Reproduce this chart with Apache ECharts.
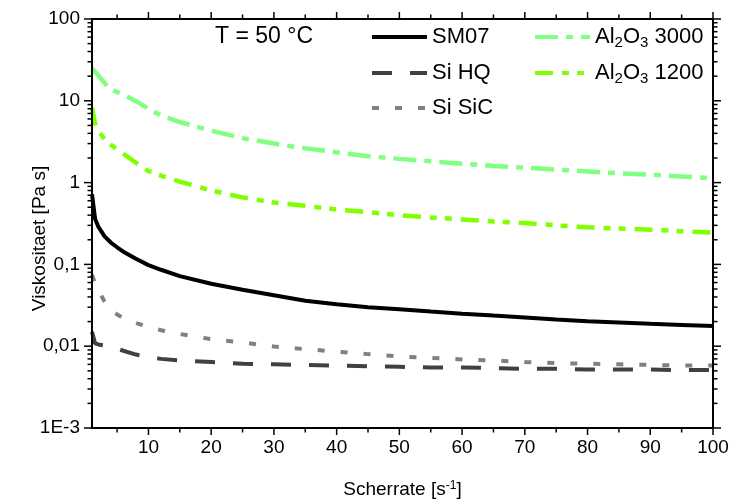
<!DOCTYPE html>
<html>
<head>
<meta charset="utf-8">
<script src="https://cdn.jsdelivr.net/npm/echarts@6/dist/echarts.min.js"></script>
<style>html,body{margin:0;padding:0;background:#fff;}#c{width:738px;height:504px;background:#fff;}</style>
</head>
<body>
<div id="c"></div>
<script>
// ---- data ----
const shearRate = [1, 1.5, 2, 3, 4, 5, 6, 8, 10, 12, 15, 20, 25, 30, 35, 40, 45, 50, 55, 60, 65, 70, 75, 80, 85, 90, 95, 100];
const sm07    = [0.72, 0.36, 0.29, 0.22, 0.185, 0.162, 0.143, 0.117, 0.098, 0.086, 0.072, 0.058, 0.049, 0.042, 0.036, 0.0325, 0.030, 0.0283, 0.0265, 0.025, 0.0237, 0.0225, 0.0212, 0.0202, 0.0195, 0.0188, 0.0182, 0.0176];
const siHQ    = [0.015, 0.0108, 0.0105, 0.0102, 0.0098, 0.0093, 0.0088, 0.0079, 0.0074, 0.0070, 0.0067, 0.0064, 0.0061, 0.0060, 0.0059, 0.0058, 0.0057, 0.0056, 0.0055, 0.0055, 0.0054, 0.0053, 0.0053, 0.0052, 0.0052, 0.0052, 0.0051, 0.0051];
const siSiC   = [0.075, 0.058, 0.049, 0.035, 0.0275, 0.0245, 0.022, 0.0192, 0.0172, 0.0157, 0.0141, 0.0122, 0.0111, 0.0099, 0.0092, 0.0086, 0.0080, 0.0075, 0.0072, 0.0069, 0.0067, 0.0064, 0.0062, 0.0061, 0.0060, 0.0059, 0.0058, 0.0058];
const al3000  = [25, 22.5, 20.5, 16.5, 13.8, 12.8, 11.9, 9.9, 8.0, 6.6, 5.5, 4.3, 3.5, 3.0, 2.62, 2.35, 2.1, 1.95, 1.82, 1.7, 1.6, 1.52, 1.44, 1.37, 1.30, 1.25, 1.19, 1.13];
const al1200  = [8.2, 5.2, 4.3, 3.4, 2.9, 2.55, 2.25, 1.75, 1.38, 1.22, 1.03, 0.8, 0.66, 0.57, 0.52, 0.47, 0.435, 0.40, 0.375, 0.355, 0.335, 0.32, 0.30, 0.284, 0.275, 0.265, 0.255, 0.245];
const seriesNames = ['SM07', 'Si HQ', 'Si SiC', 'Al2O3 3000', 'Al2O3 1200'];
const xMajorTicks = [10, 20, 30, 40, 50, 60, 70, 80, 90, 100];
const xMinorTicks = [5, 15, 25, 35, 45, 55, 65, 75, 85, 95];
const yMajorTicks = [0.001, 0.01, 0.1, 1, 10, 100];
const yTickLabels = ['1E-3', '0,01', '0,1', '1', '10', '100'];
const yMinorTicks = [];
[0.001, 0.01, 0.1, 1, 10].forEach(d => { for (let k = 2; k <= 9; k++) yMinorTicks.push(+(d * k).toPrecision(3)); });
const annotation = 'T = 50 °C';

// ---- chart ----
const FONT = '"Liberation Sans", Arial, sans-serif';
const chart = echarts.init(document.getElementById('c'), null, {renderer: 'canvas'});
const pair = ys => shearRate.map((x, i) => [x, ys[i]]);

const xAxis = {
  type: 'value', min: 1, max: 100, position: 'bottom',
  splitLine: {show: false},
  axisLine: {show: false, onZero: false},
  axisTick: {show: false},
  axisLabel: {show: true, customValues: xMajorTicks, margin: 10, color: '#000', fontSize: 19, fontFamily: FONT},
  name: 'Scherrate [s{sup|-1}]', nameLocation: 'middle', nameGap: 52, nameMoveOverlap: false,
  nameTextStyle: {fontSize: 19, fontFamily: FONT, color: '#000', rich: {sup: {fontSize: 12, fontFamily: FONT, color: '#000', verticalAlign: 'top', lineHeight: 12}}}
};
const yAxis = {
  type: 'log', logBase: 10, min: 0.001, max: 100, position: 'left',
  splitLine: {show: false},
  axisLine: {show: false, onZero: false},
  axisTick: {show: false},
  axisLabel: {
    show: true, customValues: yMajorTicks, margin: 12, color: '#000', fontSize: 19, fontFamily: FONT,
    formatter: v => { const e = Math.round(Math.log10(v)); return yTickLabels[yMajorTicks.findIndex(t => Math.round(Math.log10(t)) === e)]; }
  },
  name: 'Viskositaet [Pa s]', nameLocation: 'middle', nameGap: 43, nameRotate: 90, nameMoveOverlap: false,
  nameTextStyle: {fontSize: 19, fontFamily: FONT, color: '#000', padding: [0, 30, 0, 0]}
};

const styles = {
  'SM07':       {color: '#000000', width: 4,   type: 'solid'},
  'Si HQ':      {color: '#404040', width: 4,   type: [20, 18]},
  'Si SiC':     {color: '#808080', width: 4,   type: [7, 16]},
  'Al2O3 3000': {color: '#80FF80', width: 4.5, type: [23, 8, 7, 8]},
  'Al2O3 1200': {color: '#80FF00', width: 4.5, type: [18, 9, 7, 8, 7, 9]}
};
const values = {'SM07': sm07, 'Si HQ': siHQ, 'Si SiC': siSiC, 'Al2O3 3000': al3000, 'Al2O3 1200': al1200};

const lineSeries = seriesNames.map(n => ({
  name: n, type: 'line', xAxisIndex: 0, yAxisIndex: 0,
  data: pair(values[n]), showSymbol: false, symbol: 'none', smooth: false,
  color: styles[n].color,
  lineStyle: {color: styles[n].color, width: styles[n].width, type: styles[n].type, cap: 'butt'}
}));

function mkLegend(name, left, cy) {
  return {
    data: [name], left: left, top: cy - 13, orient: 'vertical', padding: 0, itemGap: 0,
    itemWidth: 55, itemHeight: 14, selectedMode: false,
    itemStyle: {opacity: 0},
    lineStyle: {width: 4},
    textStyle: {fontSize: 22, fontFamily: FONT, color: '#000', lineHeight: 26,
      rich: {sub: {fontSize: 15, fontFamily: FONT, color: '#000', lineHeight: 6, verticalAlign: 'bottom'}}},
    formatter: n => n.replace('Al2O3', 'Al{sub|2}O{sub|3}')
  };
}

chart.setOption({
  animation: false,
  grid: {left: 92, top: 19, width: 621, height: 411},
  xAxis: xAxis,
  yAxis: yAxis,
  legend: [
    mkLegend('SM07', 370, 37),
    mkLegend('Si HQ', 370, 73),
    mkLegend('Si SiC', 370, 108),
    mkLegend('Al2O3 3000', 533, 37),
    mkLegend('Al2O3 1200', 533, 73)
  ],
  series: lineSeries
});

// frame and tick marks on all four sides, positioned through the chart's own scales
const toPx = (x, y) => chart.convertToPixel({gridIndex: 0}, [x, y]);
const lb = toPx(1, 0.001), rt = toPx(100, 100);
const L = lb[0], B = lb[1], R = rt[0], T = rt[1];
const els = [{
  type: 'text', x: 215, y: 37, z: 10,
  style: {text: annotation, font: '23px ' + FONT, fill: '#000', verticalAlign: 'middle', textVerticalAlign: 'middle'}
}, {
  type: 'rect', z: 20, silent: true,
  shape: {x: L, y: T, width: R - L, height: B - T},
  style: {fill: 'none', stroke: '#000', lineWidth: 2}
}];
const tickLine = (x1, y1, x2, y2) => els.push({type: 'line', z: 20, silent: true, shape: {x1, y1, x2, y2}, style: {stroke: '#000', lineWidth: 1.5}});
const xt = (vals, len) => vals.forEach(v => { const px = toPx(v, 1)[0]; tickLine(px, B, px, B + len); tickLine(px, T, px, T - len); });
const yt = (vals, len) => vals.forEach(v => { const py = toPx(50, v)[1]; tickLine(L, py, L - len, py); tickLine(R, py, R + len, py); });
xt(xMajorTicks, 7); xt(xMinorTicks, 4.5);
yt(yMajorTicks, 8); yt(yMinorTicks, 4.5);
chart.setOption({graphic: els});
</script>
</body>
</html>
